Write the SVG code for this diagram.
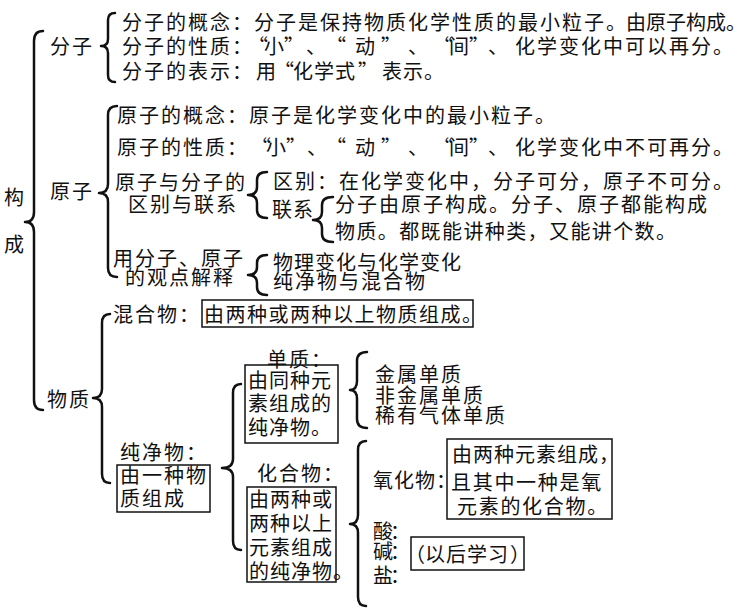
<svg xmlns="http://www.w3.org/2000/svg" width="750" height="609" viewBox="0 0 750 609">
<style>
text{font-family:"Noto Sans CJK SC","Noto Sans CJK TC",sans-serif;font-size:20px;fill:#111;letter-spacing:2px}
.l1{letter-spacing:1px}
.l0{letter-spacing:0px}
.box{fill:none;stroke:#111;stroke-width:1.5}
.br{fill:none;stroke:#111;stroke-width:2.5;stroke-linecap:round;stroke-linejoin:round}
</style>
<rect width="750" height="609" fill="#fff"/>
<g id="connectors">
<path class="br" d="M43,31 Q34,31 34,41 L34,212 Q34,222 25,222 Q34,222 34,232 L34,400 Q34,410 43,410"/>
<path class="br" d="M115,13 Q108,13 108,20 L108,39 Q108,46 101,46 Q108,46 108,53 L108,75 Q108,82 115,82"/>
<path class="br" d="M117,106 Q108,106 108,115 L108,184 Q108,193 99,193 Q108,193 108,202 L108,268 Q108,277 117,277"/>
<path class="br" d="M267,172 Q257,172 257,180 L257,187 Q257,195 248,195 Q257,195 257,203 L257,210 Q257,218 267,218"/>
<path class="br" d="M333,197 Q322,197 322,205 L322,212 Q322,220 313,220 Q322,220 322,228 L322,234 Q322,242 333,242"/>
<path class="br" d="M267,255 Q257,255 257,263 L257,267 Q257,275 248,275 Q257,275 257,283 L257,287 Q257,295 267,295"/>
<path class="br" d="M110,314 Q102,314 102,323 L102,389 Q102,398 93,398 Q102,398 102,407 L102,474 Q102,483 110,483"/>
<path class="br" d="M241,384 Q233,384 233,393 L233,459 Q233,468 222,468 Q233,468 233,477 L233,541 Q233,550 241,550"/>
<path class="br" d="M367,352 Q357,352 357,361 L357,381 Q357,390 350,390 Q357,390 357,399 L357,419 Q357,428 367,428"/>
<path class="br" d="M366,441 Q358,441 358,450 L358,515 Q358,524 350,524 Q358,524 358,533 L358,597 Q358,606 366,606"/>
</g>
<g id="goucheng">
<text x="4" y="205">构</text>
<text x="4" y="252">成</text>
</g>
<g id="fenzi">
<text x="50" y="54">分子</text>
</g>
<g id="fenzi-gainian">
<text x="122" y="30">分子的概念：分子是保持物质化学性质的最小粒子。<tspan x="626" class="l0">由原子构成。</tspan></text>
</g>
<g id="fenzi-xingzhi">
<text x="122" y="54">分子的性质<tspan class="l0">：</tspan><tspan x="248" class="l0">“</tspan><tspan x="264" class="l0">小</tspan><tspan x="284" class="l0">”</tspan><tspan x="306" class="l0">、</tspan><tspan x="326" class="l0">“</tspan><tspan x="355" class="l0">动</tspan><tspan x="381" class="l0">”</tspan><tspan x="408" class="l0">、</tspan><tspan x="433" class="l0">“</tspan><tspan x="449" class="l0">间</tspan><tspan x="469" class="l0">”</tspan><tspan x="488" class="l0">、</tspan><tspan x="515">化学变化中可以再分。</tspan></text>
</g>
<g id="fenzi-biaoshi">
<text x="122" y="79">分子的表示<tspan class="l0">：</tspan><tspan x="256" class="l0">用</tspan><tspan x="274" class="l0">“</tspan><tspan x="293" class="l1">化学式</tspan><tspan x="358" class="l0">”</tspan><tspan x="382" class="l1">表示。</tspan></text>
</g>
<g id="yuanzi">
<text x="50" y="199">原子</text>
</g>
<g id="yuanzi-gainian">
<text x="117" y="123">原子的概念：原子是化学变化中的最小粒子。</text>
</g>
<g id="yuanzi-xingzhi">
<text x="117" y="155">原子的性质<tspan class="l0">：</tspan><tspan x="251" class="l0">“</tspan><tspan x="266" class="l0">小</tspan><tspan x="286" class="l0">”</tspan><tspan x="307" class="l0">、</tspan><tspan x="326" class="l0">“</tspan><tspan x="355" class="l0">动</tspan><tspan x="381" class="l0">”</tspan><tspan x="408" class="l0">、</tspan><tspan x="433" class="l0">“</tspan><tspan x="449" class="l0">间</tspan><tspan x="469" class="l0">”</tspan><tspan x="488" class="l0">、</tspan><tspan x="515">化学变化中不可再分。</tspan></text>
</g>
<g id="qubie-lianxi">
<text x="115" y="190">原子与分子的</text>
<text x="128" y="212">区别与联系</text>
</g>
<g id="qubie">
<text x="273" y="189">区别：在化学变化中，分子可分，原子不可分。</text>
</g>
<g id="lianxi">
<text x="272" y="217" class="l1">联系</text>
</g>
<g id="lianxi-content">
<text x="335" y="212">分子由原子构成。分子、原子都能构成</text>
<text x="335" y="239" style="letter-spacing:1.4px">物质。都既能讲种类，又能讲个数。</text>
</g>
<g id="jieshi">
<text x="113" y="266">用分子、原子</text>
<text x="125" y="285">的观点解释</text>
</g>
<g id="jieshi-content">
<text x="273" y="270" class="l1">物理变化与化学变化</text>
<text x="273" y="289">纯净物与混合物</text>
</g>
<g id="wuzhi">
<text x="47" y="407">物质</text>
</g>
<g id="hunhewu">
<text x="113" y="322">混合物：</text>
<rect class="box" x="202" y="300" width="271" height="27"/>
<text x="204" y="322" style="letter-spacing:1.5px">由两种或两种以上物质组成。</text>
</g>
<g id="chunjingwu">
<text x="120" y="460">纯净物：</text>
<rect class="box" x="117" y="465" width="93" height="47"/>
<text x="120" y="483">由一种物</text>
<text x="120" y="506">质组成</text>
</g>
<g id="danzhi">
<text x="267" y="367">单质：</text>
<rect class="box" x="245" y="365" width="93" height="78"/>
<text x="248" y="388" class="l1">由同种元</text>
<text x="248" y="411" class="l1">素组成的</text>
<text x="248" y="435" class="l1">纯净物。</text>
</g>
<g id="danzhi-types">
<text x="375" y="382">金属单质</text>
<text x="375" y="403">非金属单质</text>
<text x="375" y="423">稀有气体单质</text>
</g>
<g id="huahewu">
<text x="257" y="481">化合物：</text>
<rect class="box" x="247" y="487" width="89" height="95"/>
<text x="249" y="507" class="l1">由两种或</text>
<text x="249" y="531" class="l1">两种以上</text>
<text x="249" y="555" class="l1">元素组成</text>
<text x="249" y="579" class="l1">的纯净物。</text>
</g>
<g id="yanghuawu">
<text x="373" y="488" class="l1">氧化物：</text>
<rect class="box" x="447" y="439" width="165" height="80"/>
<text x="452" y="462" class="l1">由两种元素组成，</text>
<text x="451" y="490" style="letter-spacing:1.7px">且其中一种是氧</text>
<text x="457" y="514" style="letter-spacing:1.7px">元素的化合物。</text>
</g>
<g id="suan-jian-yan">
<text x="373" y="539" style="letter-spacing:-3px">酸：</text>
<text x="373" y="559" style="letter-spacing:-3px">碱：</text>
<text x="373" y="583" style="letter-spacing:-3px">盐：</text>
<rect class="box" x="411" y="537" width="113" height="33"/>
<text x="405" y="562" class="l0">（<tspan x="425" class="l1">以后学习</tspan><tspan x="510" class="l0">）</tspan></text>
</g>
</svg>
